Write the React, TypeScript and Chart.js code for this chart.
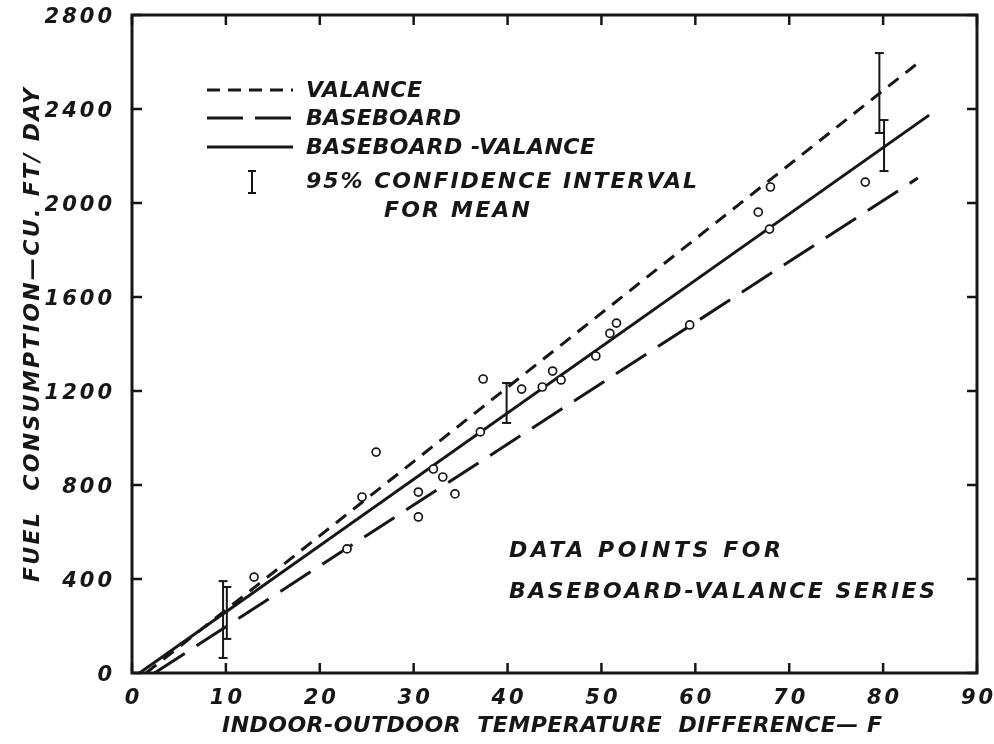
import React, { useEffect, useRef } from "react";
import { Chart, registerables } from "chart.js";
Chart.register(...registerables);

// ---- data ----
const xTicks = [0, 10, 20, 30, 40, 50, 60, 70, 80, 90];
const yTicks = [0, 400, 800, 1200, 1600, 2000, 2400, 2800];

const pointX = [13.0, 22.9, 24.5, 26.0, 30.5, 30.5, 32.1, 33.1, 34.4, 37.4, 37.1, 41.5, 43.7, 44.8, 45.7, 49.4, 50.9, 51.6, 59.4, 66.7, 67.9, 68.0, 78.1];
const pointY = [408, 528, 749, 940, 664, 770, 868, 834, 762, 1251, 1026, 1208, 1217, 1285, 1247, 1349, 1445, 1489, 1481, 1961, 1889, 2068, 2089];

const valanceX = [1.5, 84.1];
const valanceY = [0, 2608];
const baseboardX = [2.4, 83.7];
const baseboardY = [0, 2106];
const bvX = [0.8, 84.9];
const bvY = [0, 2374];

const ciX = [9.7, 10.1, 39.9, 79.6, 80.1];
const ciLow = [64, 145, 1064, 2298, 2136];
const ciHigh = [391, 366, 1234, 2638, 2353];

const INK = "#161616";
const FONT = '"DejaVu Sans", sans-serif';

function setFont(ctx: CanvasRenderingContext2D, size: number) {
  ctx.font = `bold italic ${size}px ${FONT}`;
}

// draw text starting at left, fitted to a given width via letter spacing
function fitText(ctx: CanvasRenderingContext2D, text: string, left: number, cy: number, width: number, size: number) {
  setFont(ctx, size);
  (ctx as any).letterSpacing = "0px";
  const w = ctx.measureText(text).width;
  const sp = (width - w) / Math.max(1, text.length - 1);
  (ctx as any).letterSpacing = `${sp}px`;
  ctx.textAlign = "left";
  ctx.textBaseline = "middle";
  ctx.fillText(text, left, cy);
  (ctx as any).letterSpacing = "0px";
}

function spacedWidth(ctx: CanvasRenderingContext2D, text: string, size: number, sp: number) {
  setFont(ctx, size);
  (ctx as any).letterSpacing = "0px";
  return ctx.measureText(text).width + sp * (text.length - 1);
}

function spacedText(ctx: CanvasRenderingContext2D, text: string, left: number, cy: number, size: number, sp: number) {
  setFont(ctx, size);
  (ctx as any).letterSpacing = `${sp}px`;
  ctx.textAlign = "left";
  ctx.textBaseline = "middle";
  ctx.fillText(text, left, cy);
  (ctx as any).letterSpacing = "0px";
}

const decorPlugin = {
  id: "decor",
  beforeDraw(chart: any) {
    const ctx = chart.ctx as CanvasRenderingContext2D;
    ctx.save();
    ctx.fillStyle = "#fff";
    ctx.fillRect(0, 0, chart.width, chart.height);
    ctx.restore();
  },
  afterDraw(chart: any) {
    const ctx = chart.ctx as CanvasRenderingContext2D;
    const { left, right, top, bottom } = chart.chartArea;
    const xs = chart.scales.x;
    const ys = chart.scales.y;
    ctx.save();
    ctx.strokeStyle = INK;
    ctx.fillStyle = INK;
    ctx.setLineDash([]);
    // frame
    ctx.lineWidth = 3;
    ctx.strokeRect(left, top, right - left, bottom - top);
    // inward ticks
    ctx.lineWidth = 2.5;
    const tl = 10;
    xTicks.forEach((v) => {
      const px = xs.getPixelForValue(v);
      ctx.beginPath();
      ctx.moveTo(px, bottom);
      ctx.lineTo(px, bottom - tl);
      ctx.moveTo(px, top);
      ctx.lineTo(px, top + tl);
      ctx.stroke();
    });
    yTicks.forEach((v) => {
      const py = ys.getPixelForValue(v);
      ctx.beginPath();
      ctx.moveTo(left, py);
      ctx.lineTo(left + tl, py);
      ctx.moveTo(right, py);
      ctx.lineTo(right - tl, py);
      ctx.stroke();
    });
    // tick labels
    const tSize = 21;
    const tSp = 3;
    xTicks.forEach((v) => {
      const s = String(v);
      const w = spacedWidth(ctx, s, tSize, tSp);
      const px = xs.getPixelForValue(v);
      spacedText(ctx, s, px - w / 2, bottom + 26, tSize, tSp);
    });
    yTicks.forEach((v) => {
      const s = String(v);
      const w = spacedWidth(ctx, s, tSize, tSp);
      const py = ys.getPixelForValue(v);
      spacedText(ctx, s, left - 20 - w, py + 3, tSize, tSp);
    });
    // axis titles
    const S = 22;
    fitText(ctx, "INDOOR-OUTDOOR  TEMPERATURE  DIFFERENCE— F", 222, 726, 660, S);
    ctx.save();
    ctx.translate(33, 335);
    ctx.rotate(-Math.PI / 2);
    fitText(ctx, "FUEL  CONSUMPTION—CU. FT/ DAY", -247, 0, 494, S);
    ctx.restore();

    // legend
    const lx0 = 207, lx1 = 293;
    ctx.lineWidth = 3;
    ctx.setLineDash([13, 8]);
    ctx.beginPath(); ctx.moveTo(lx0, 90); ctx.lineTo(lx1, 90); ctx.stroke();
    ctx.setLineDash([36, 12]);
    ctx.beginPath(); ctx.moveTo(lx0, 118); ctx.lineTo(lx1, 118); ctx.stroke();
    ctx.setLineDash([]);
    ctx.beginPath(); ctx.moveTo(lx0, 147); ctx.lineTo(lx1, 147); ctx.stroke();
    // I symbol
    ctx.lineWidth = 2;
    ctx.beginPath();
    ctx.moveTo(252, 171); ctx.lineTo(252, 193);
    ctx.moveTo(248, 171); ctx.lineTo(256, 171);
    ctx.moveTo(248, 193); ctx.lineTo(256, 193);
    ctx.stroke();
    fitText(ctx, "VALANCE", 306, 91, 116, S);
    fitText(ctx, "BASEBOARD", 306, 119, 155, S);
    fitText(ctx, "BASEBOARD -VALANCE", 306, 148, 289, S);
    fitText(ctx, "95% CONFIDENCE INTERVAL", 306, 182, 391, S);
    fitText(ctx, "FOR MEAN", 384, 211, 146, S);

    // annotation
    fitText(ctx, "DATA POINTS FOR", 509, 551, 272, S);
    fitText(ctx, "BASEBOARD-VALANCE SERIES", 509, 592, 426, S);
    ctx.restore();
  },
};

export default function App() {
  const ref = useRef<HTMLCanvasElement | null>(null);
  useEffect(() => {
    if (!ref.current) return;
    const lineDs = (xa: number[], ya: number[], dash: number[]) => ({
      type: "scatter" as const,
      data: xa.map((x, i) => ({ x, y: ya[i] })),
      showLine: true,
      borderColor: INK,
      borderWidth: 3,
      borderDash: dash,
      pointRadius: 0,
      fill: false,
    });
    const datasets: any[] = [
      {
        data: pointX.map((x, i) => ({ x, y: pointY[i] })),
        showLine: false,
        pointStyle: "circle",
        pointRadius: 4,
        pointBorderWidth: 1.7,
        pointBackgroundColor: "#fff",
        pointBorderColor: INK,
      },
      ...ciX.map((x, i) => ({
        data: [
          { x, y: ciLow[i] },
          { x, y: ciHigh[i] },
        ],
        showLine: true,
        borderColor: INK,
        borderWidth: 2,
        pointStyle: "line",
        pointRadius: 4.5,
        pointBorderWidth: 2,
        pointBorderColor: INK,
      })),
      lineDs(valanceX, valanceY, [13, 9]),
      lineDs(baseboardX, baseboardY, [36, 14]),
      lineDs(bvX, bvY, []),
    ];
    const chart = new Chart(ref.current, {
      type: "scatter",
      data: { datasets },
      options: {
        responsive: false,
        animation: false,
        layout: { padding: { left: 132, top: 15, right: 17, bottom: 71 } },
        plugins: { legend: { display: false }, tooltip: { enabled: false } },
        scales: {
          x: { type: "linear", min: 0, max: 90, display: false },
          y: { type: "linear", min: 0, max: 2800, display: false },
        },
      },
      plugins: [decorPlugin],
    });
    return () => chart.destroy();
  }, []);
  return (
    <div style={{ position: "fixed", left: 0, top: 0, width: 994, height: 744, background: "#fff" }}>
      <canvas ref={ref} width={994} height={744} style={{ width: 994, height: 744, display: "block" }} />
    </div>
  );
}
